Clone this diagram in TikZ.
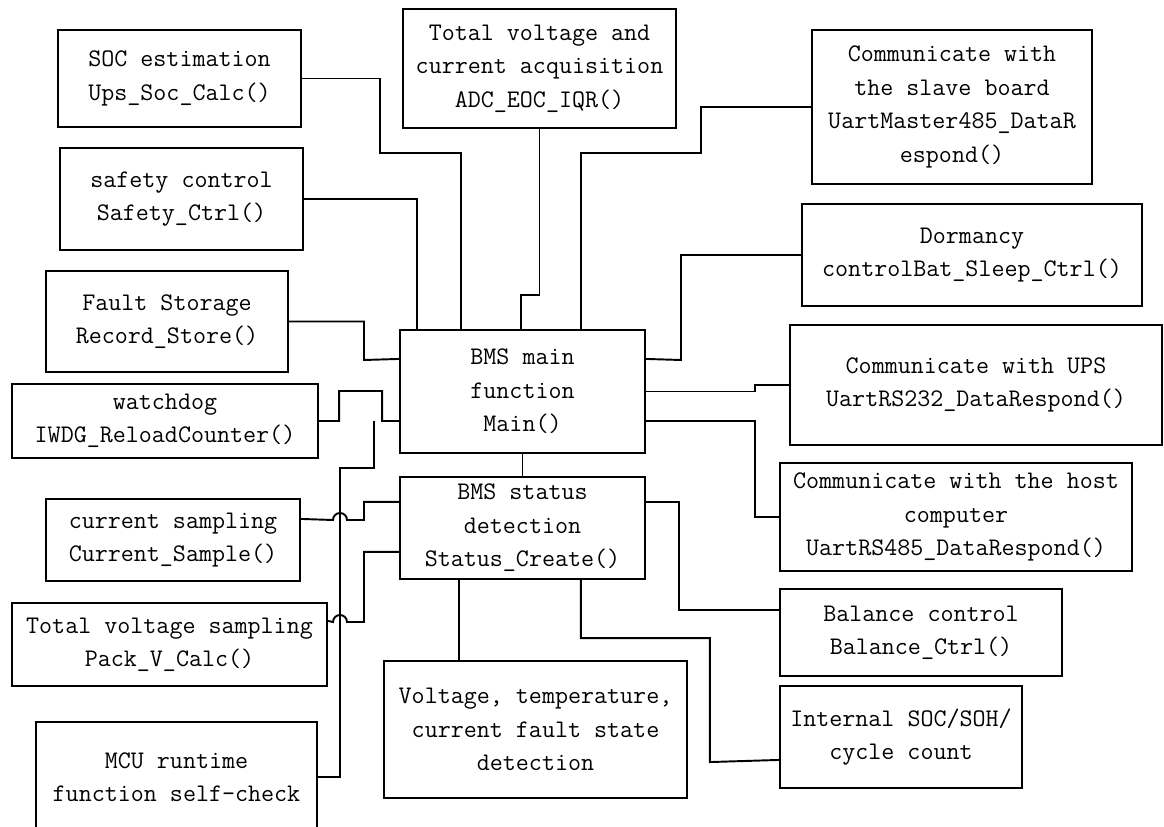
\documentclass[tikz,border=0pt]{standalone}
\usepackage{fontspec}
\usepackage{tikz}
\usetikzlibrary{calc}

\begin{document}
\begin{tikzpicture}[x=0.02cm,y=-0.02cm,
  fnbox/.style 2 args={shape=rectangle,draw,line width=1.2pt,align=center,inner sep=0pt,minimum width=#1*0.02cm,minimum height=#2*0.02cm,font=\fontsize{14.4}{19}\ttfamily},
  wire/.style={line width=1.1pt}]

\path[use as bounding box] (0,0) rectangle (1164,827);
\clip (0,0) rectangle (1164,827);

\node (Soc) [fnbox={243}{97}] at (179.5,78.5) {SOC estimation\\Ups\_Soc\_Calc()};
\node (Acq) [fnbox={273}{119}] at (539.5,68.5) {Total voltage and\\current acquisition\\ADC\_EOC\_IQR()};
\node (Slave) [fnbox={280}{154}] at (952,107) {Communicate with\\the slave board\\UartMaster485\_DataR\\espond()};
\node (Safe) [fnbox={243}{102}] at (181.5,199) {safety control\\Safety\_Ctrl()};
\node (Sleep) [fnbox={340}{102}] at (972,255) {Dormancy\\controlBat\_Sleep\_Ctrl()};
\node (Fault) [fnbox={242}{101}] at (167,321.5) {Fault Storage\\Record\_Store()};
\node (Main) [fnbox={245}{123}] at (522.5,391.5) {BMS main\\function\\Main()};
\node (Ups) [fnbox={372}{120}] at (976,385) {Communicate with UPS\\UartRS232\_DataRespond()};
\node (Wdog) [fnbox={306}{74}] at (165,421) {watchdog\\IWDG\_ReloadCounter()};
\node (Stat) [fnbox={245}{102}] at (522.5,528) {BMS status\\detection\\Status\_Create()};
\node (Host) [fnbox={352}{108}] at (956,517) {Communicate with the host\\computer\\UartRS485\_DataRespond()};
\node (Cur) [fnbox={254}{82}] at (173,540) {current sampling\\Current\_Sample()};
\node (Volt) [fnbox={315}{83}] at (169.5,644.5) {Total voltage sampling\\Pack\_V\_Calc()};
\node (Bal) [fnbox={282}{87}] at (921,632.5) {Balance control\\Balance\_Ctrl()};
\node (Det) [fnbox={303}{137}] at (535.5,729.5) {Voltage, temperature,\\current fault state\\detection};
\node (Soh) [fnbox={242}{102}] at (901,737) {Internal SOC/SOH/\\cycle count};
\node (Mcu) [fnbox={281}{110}] at (176.5,777) {MCU runtime\\function self-check};

\draw[wire] (Soc.east) -| (380,153) -| ($(Main.north west)+(62,0)$);
\draw[wire] (Acq.south) -- ++(0,166) -| ($(Main.north west)+(122,0)$);
\draw[wire] (Safe.east) -| ($(Main.north west)+(18,0)$);
\draw[wire] (Slave.west) -| (701,153) -| ($(Main.north west)+(182,0)$);
\draw[wire] (Sleep.west) -| (681,360) -- ($(Main.north east)+(0,30)$);
\draw[wire] (Main.east) -- ++(109,0) |- (Ups.west);
\draw[wire] ($(Main.east)+(0,29.5)$) -- ++(109,0) |- (Host.west);
\draw[wire] (Fault.east) -| (364,360) -- ($(Main.north west)+(0,30)$);
\draw[wire] (Wdog.east) -- ++(20,0) -- ++(0,-30) -- ++(43,0) -- ++(0,30) -- ($(Main.west)+(0,29.5)$);
\draw[wire] (Mcu.east) -| (340,468) -| ($(Main.west)+(-25,29.5)$);
\draw[wire] (Main.south) -- (Stat.north);

\draw[wire] ($(Cur.north east)+(0,21)$) -- (333,520) arc[start angle=180,end angle=0,radius=0.14cm] -- (364,520) |- ($(Stat.north west)+(0,26)$);
\draw[wire] ($(Volt.north east)+(0,19)$) -- (333,622) arc[start angle=180,end angle=0,radius=0.14cm] -- (364,622) |- ($(Stat.north west)+(0,76)$);
\draw[wire] ($(Stat.north east)+(0,26)$) -- ++(33,0) |- ($(Bal.north west)+(0,22)$);
\draw[wire] ($(Stat.south west)+(182,0)$) -- ++(0,58) -| ++(129,124) -- ($(Soh.north west)+(0,75)$);
\draw[wire] ($(Stat.south west)+(60,0)$) -- ($(Det.north west)+(76,0)$);

\end{tikzpicture}
\end{document}
